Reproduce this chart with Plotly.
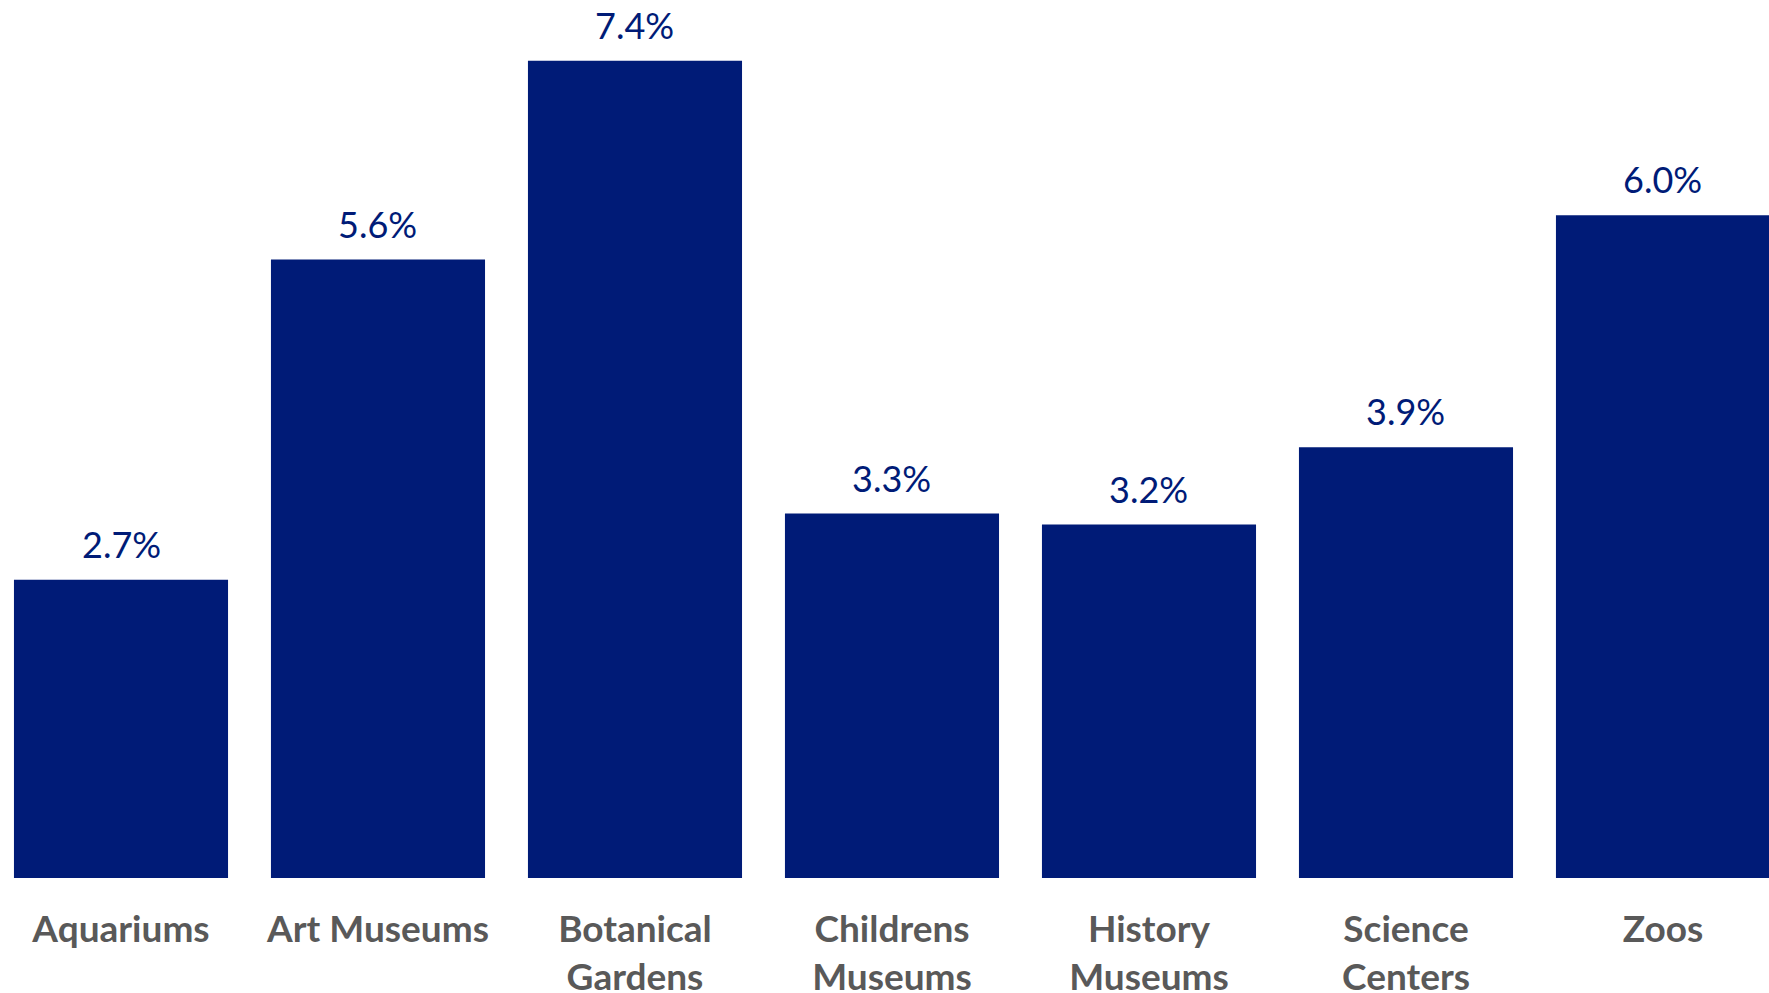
import plotly.graph_objects as go

categories = ["Aquariums", "Art Museums", "Botanical<br>Gardens", "Childrens<br>Museums",
              "History<br>Museums", "Science<br>Centers", "Zoos"]
values = [2.7, 5.6, 7.4, 3.3, 3.2, 3.9, 6.0]
labels = [f"{v:.1f}%" for v in values]

BAR = "#001B77"
FONT = "Lato, 'Open Sans', sans-serif"

fig = go.Figure()
fig.add_trace(go.Bar(
    x=list(range(len(categories))), y=values,
    marker=dict(color=BAR, line=dict(width=0)),
    hoverinfo="skip",
))

for i, (v, t) in enumerate(zip(values, labels)):
    fig.add_annotation(x=i, y=v, text=t, showarrow=False, yanchor="bottom",
                       yshift=12, font=dict(family=FONT, size=36, color=BAR))

fig.update_layout(
    width=1769, height=993,
    margin=dict(l=0, r=0, t=0, b=115),
    paper_bgcolor="white", plot_bgcolor="white",
    bargap=0.167, showlegend=False,
    xaxis=dict(
        range=[-0.4708, 6.4125], tickmode="array",
        tickvals=list(range(len(categories))), ticktext=categories,
        showgrid=False, zeroline=False, showline=False, ticks="",
        tickfont=dict(family=FONT, size=37, color="#595959", weight="bold"),
        ticklabelstandoff=26, automargin=False,
    ),
    yaxis=dict(range=[0, 7.95], visible=False, showgrid=False, zeroline=False,
               automargin=False),
)

fig.write_html("out.html")
